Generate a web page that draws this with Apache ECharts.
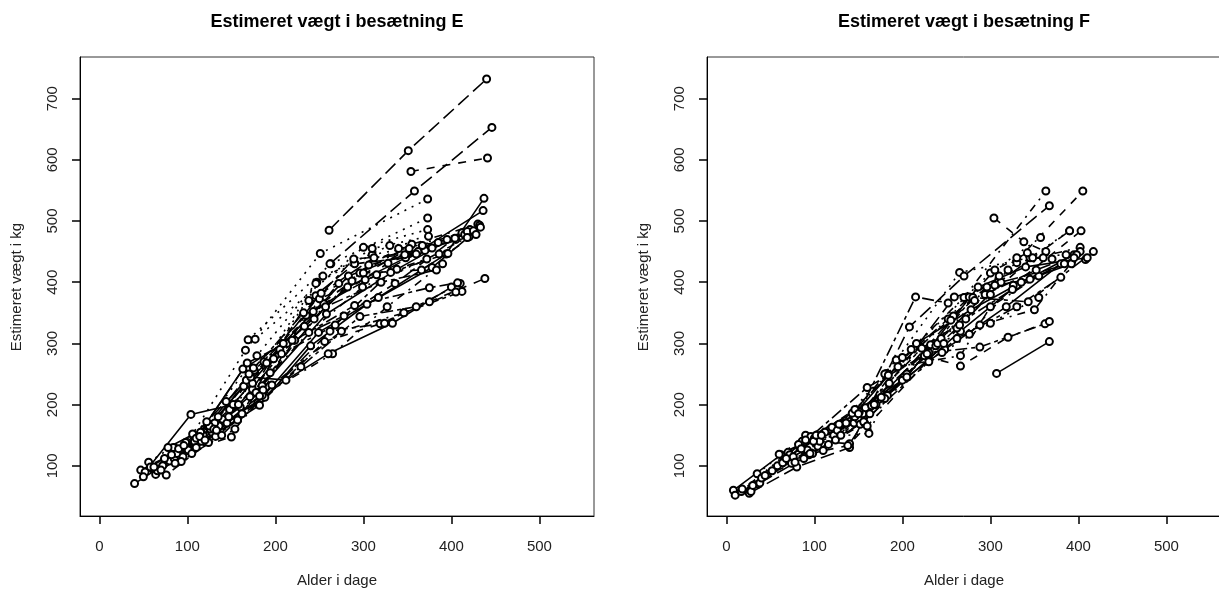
<!DOCTYPE html>
<html>
<head>
<meta charset="utf-8">
<script src="https://cdn.jsdelivr.net/npm/echarts@6/dist/echarts.min.js"></script>
<style>
  html, body { margin: 0; padding: 0; background: #fff; }
  #chart { width: 1219px; height: 592px; }
</style>
</head>
<body>
<div id="chart"></div>
<script>
// tick labels (same on both panels)
var xTicks = [0, 100, 200, 300, 400, 500];
var yTicks = [100, 200, 300, 400, 500, 600, 700];

// texts
var titleE = 'Estimeret vægt i besætning E';
var titleF = 'Estimeret vægt i besætning F';
var xName = 'Alder i dage';
var yName = 'Estimeret vægt i kg';

// herd E: one row per animal, points are [alder i dage, vægt i kg]
var herdE = [
    [[40, 71], [90, 117], [140, 176], [185, 231], [258, 348], [338, 421], [412, 481]],
    [[47, 93], [97, 130], [148, 192], [176, 256], [243, 352], [328, 431], [421, 486]],
    [[56, 106], [106, 152], [166, 289], [251, 447], [373, 536]],
    [[64, 86], [112, 139], [171, 213], [238, 318], [299, 392], [386, 446]],
    [[261, 485], [351, 615], [440, 732]],
    [[76, 85], [124, 138], [180, 203], [229, 262], [296, 344], [360, 360], [410, 398]],
    [[52, 90], [104, 184], [152, 200], [205, 290], [282, 392], [362, 450], [436, 517]],
    [[354, 581], [441, 603]],
    [[169, 306], [263, 430], [373, 505]],
    [[60, 96], [108, 140], [160, 196], [213, 300], [272, 398], [340, 455], [405, 470]],
    [[262, 430], [358, 549], [446, 653]],
    [[68, 95], [118, 150], [164, 230], [222, 305], [290, 362], [375, 391], [407, 399]],
    [[80, 108], [128, 155], [184, 210], [249, 318], [317, 375], [394, 446], [437, 537]],
    [[85, 112], [132, 148], [181, 200], [256, 303], [319, 332], [375, 368], [438, 406]],
    [[177, 307], [300, 457], [373, 486]],
    [[72, 100], [126, 160], [167, 240], [233, 328], [296, 415], [355, 462], [430, 495]],
    [[88, 120], [136, 165], [174, 225], [238, 370], [290, 430], [348, 440], [415, 478]],
    [[95, 115], [145, 170], [188, 212], [262, 320], [324, 333], [346, 350], [412, 385]],
    [[58, 98], [110, 145], [163, 258], [209, 300], [283, 410], [347, 445], [420, 474]],
    [[100, 125], [150, 147], [178, 220], [244, 340], [306, 428], [370, 452], [432, 493]],
    [[84, 130], [131, 170], [174, 235], [254, 410], [330, 460], [395, 470]],
    [[93, 107], [139, 150], [185, 215], [265, 283], [327, 360], [390, 430]],
    [[66, 92], [115, 155], [168, 268], [219, 305], [278, 345], [336, 398], [404, 472]],
    [[50, 82], [101, 126], [158, 200], [207, 283], [268, 330], [331, 416], [396, 447]],
    [[78, 130], [125, 165], [172, 245], [212, 240], [260, 283], [333, 333], [400, 392]],
    [[90, 128], [135, 180], [175, 260], [235, 346], [287, 402], [352, 455], [418, 483]],
    [[98, 138], [147, 180], [187, 270], [247, 400], [310, 445], [367, 460]],
    [[105, 120], [154, 160], [196, 232], [275, 320], [346, 350], [405, 384]],
    [[116, 140], [162, 185], [198, 275], [255, 365], [315, 412], [385, 465]],
    [[62, 98], [114, 148], [170, 250], [232, 350], [289, 438], [360, 446], [425, 484]],
    [[70, 93], [120, 142], [182, 199], [240, 296], [304, 364], [378, 424], [433, 490]],
    [[82, 118], [130, 160], [186, 224], [246, 378], [300, 415], [366, 420], [428, 478]],
    [[74, 112], [122, 172], [179, 280], [246, 398], [310, 455], [374, 475]],
    [[86, 104], [133, 158], [182, 214], [250, 373], [302, 404], [372, 438], [418, 473]],
    [[96, 133], [144, 205], [190, 268], [252, 382], [312, 440], [378, 456]],
    [[110, 130], [157, 175], [194, 252], [257, 360], [320, 400], [383, 420]]
];

// herd F
var herdF = [
    [[8, 60], [62, 118], [118, 160], [183, 215], [266, 320], [330, 395], [395, 445]],
    [[10, 52], [66, 110], [122, 150], [182, 251], [252, 340], [320, 420], [405, 549]],
    [[17, 58], [70, 122], [128, 165], [193, 273], [265, 416], [345, 440], [390, 484]],
    [[18, 62], [72, 118], [134, 170], [200, 277], [270, 375], [363, 549]],
    [[26, 55], [80, 98], [140, 130], [208, 327], [270, 410], [367, 525]],
    [[27, 60], [84, 130], [145, 170], [215, 376], [252, 366]],
    [[28, 58], [86, 140], [148, 190], [200, 240], [248, 290], [318, 360], [380, 430]],
    [[304, 505], [338, 466], [363, 450]],
    [[35, 87], [90, 150], [155, 185], [210, 290], [300, 415], [357, 473]],
    [[36, 70], [92, 126], [150, 176], [220, 295], [276, 376], [330, 432], [402, 457]],
    [[38, 72], [94, 118], [152, 168], [205, 250], [262, 325], [312, 400], [408, 437]],
    [[30, 68], [96, 148], [160, 228], [230, 285], [288, 294], [362, 332]],
    [[307, 251], [367, 303]],
    [[40, 80], [98, 120], [157, 170], [225, 280], [266, 263], [320, 310], [367, 336]],
    [[44, 84], [100, 145], [162, 153], [180, 210], [245, 285], [300, 333], [355, 375]],
    [[52, 92], [104, 132], [158, 195], [195, 262], [266, 280], [300, 360], [355, 410]],
    [[58, 100], [106, 140], [140, 136], [185, 235], [259, 376], [305, 395], [390, 484]],
    [[64, 105], [110, 125], [170, 200], [228, 283], [280, 375], [343, 368], [417, 450]],
    [[68, 112], [112, 155], [144, 182], [216, 300], [278, 355], [335, 400], [392, 430]],
    [[74, 104], [116, 135], [165, 198], [232, 298], [276, 315], [326, 395], [403, 484]],
    [[76, 115], [120, 163], [163, 185], [238, 296], [282, 370], [330, 440], [386, 445]],
    [[78, 106], [124, 142], [146, 180], [240, 300], [288, 330], [350, 355], [402, 450]],
    [[82, 135], [126, 158], [151, 188], [244, 308], [294, 380], [352, 420], [398, 445]],
    [[88, 112], [130, 150], [156, 172], [230, 270], [262, 308], [330, 360], [380, 408]],
    [[90, 142], [136, 170], [168, 200], [205, 245], [286, 392], [340, 425], [410, 440]],
    [[95, 120], [138, 133], [160, 165], [247, 300], [300, 380], [348, 440], [370, 438]],
    [[99, 140], [143, 186], [180, 250], [265, 330], [310, 410], [360, 440]],
    [[102, 150], [146, 192], [184, 248], [258, 345], [305, 420], [342, 448]],
    [[85, 128], [128, 168], [176, 212], [255, 338], [296, 392], [345, 405], [384, 430]],
    [[60, 119], [108, 150], [150, 185], [222, 292], [272, 340], [325, 388], [395, 440]]
];

// R lty 1..6 at lwd 2
var lineTypes = ['solid', [8, 8], [2, 6], [2, 6, 8, 6], [14, 6], [4, 4, 12, 4]];

var font = 'Liberation Sans, Arial, sans-serif';

function makeSeries(herd, idx) {
    var out = [];
    for (var i = 0; i < herd.length; i++) {
        out.push({
            type: 'line',
            xAxisIndex: idx,
            yAxisIndex: idx,
            data: herd[i],
            symbol: 'emptyCircle',
            symbolSize: 7,
            lineStyle: { color: '#000', width: 1.6, type: lineTypes[i % 6] },
            itemStyle: { color: '#000', borderColor: '#000', borderWidth: 1.6 }
        });
    }
    return out;
}

function xAxisFor(idx) {
    return {
        type: 'value', gridIndex: idx, min: -22, max: 562,
        splitLine: { show: false },
        axisLine: { show: true, onZero: false, lineStyle: { color: '#000', width: 1 } },
        axisTick: { show: true, inside: false, length: 8, customValues: xTicks, lineStyle: { color: '#000', width: 1.5 } },
        axisLabel: { customValues: xTicks, fontFamily: font, fontSize: 15, color: '#222', margin: 23 }
    };
}

function yAxisFor(idx) {
    return {
        type: 'value', gridIndex: idx, min: 18, max: 768,
        splitLine: { show: false },
        axisLine: { show: true, onZero: false, lineStyle: { color: '#000', width: 1 } },
        axisTick: { show: true, inside: false, length: 8, customValues: yTicks, lineStyle: { color: '#000', width: 1.5 } },
        axisLabel: { customValues: yTicks, rotate: 90, fontFamily: font, fontSize: 15, color: '#222', margin: 20 }
    };
}

// titles and axis names as plain text elements
function label(text, x, y, size, weight, rot) {
    return {
        type: 'text', x: x, y: y, rotation: rot || 0, silent: true,
        style: {
            text: text, fill: weight === 'bold' ? '#000' : '#222',
            font: weight + ' ' + size + 'px ' + font,
            align: 'center', verticalAlign: 'middle',
            textAlign: 'center', textVerticalAlign: 'middle'
        }
    };
}

var chart = echarts.init(document.getElementById('chart'));
chart.setOption({
    animation: false,
    grid: [
        { left: 80, top: 57, width: 514, height: 459, outerBoundsMode: 'none',
          show: true, borderColor: '#333', borderWidth: 1 },
        { left: 707, top: 57, right: -2, height: 459, outerBoundsMode: 'none',
          show: true, borderColor: '#333', borderWidth: 1 }
    ],
    xAxis: [xAxisFor(0), xAxisFor(1)],
    yAxis: [yAxisFor(0), yAxisFor(1)],
    graphic: [
        label(titleE, 337, 22, 18, 'bold'),
        label(titleF, 964, 22, 18, 'bold'),
        label(xName, 337, 581, 15, 'normal'),
        label(xName, 964, 581, 15, 'normal'),
        label(yName, 17, 287, 15, 'normal', Math.PI / 2),
        label(yName, 644, 287, 15, 'normal', Math.PI / 2)
    ],
    series: makeSeries(herdE, 0).concat(makeSeries(herdF, 1))
});
</script>
</body>
</html>
